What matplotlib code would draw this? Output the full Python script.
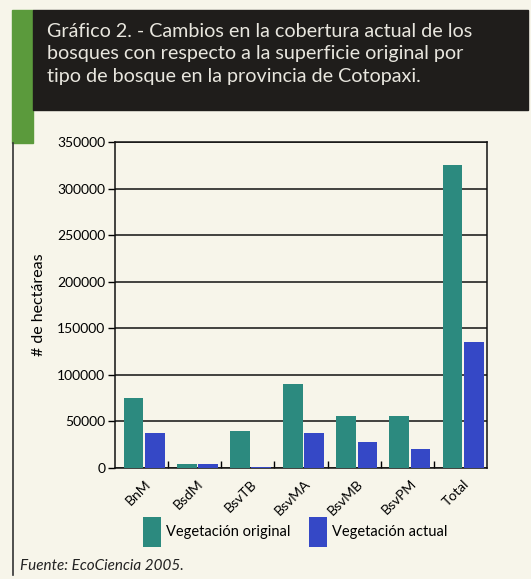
import matplotlib
matplotlib.use('Agg')
import matplotlib.pyplot as plt
from matplotlib.patches import Rectangle
import numpy as np

plt.rcParams['font.family'] = ['Lato', 'DejaVu Sans']

# datos (hectáreas)
categorias = ['BnM', 'BsdM', 'BsvTB', 'BsvMA', 'BsvMB', 'BsvPM', 'Total']
veg_original = [75000, 4500, 40000, 90000, 56000, 56000, 325000]
veg_actual = [38000, 4500, 1000, 37500, 28000, 20000, 135000]
y_ticks = [0, 50000, 100000, 150000, 200000, 250000, 300000, 350000]

titulo = ("Gráfico 2. - Cambios en la cobertura actual de los\n"
          "bosques con respecto a la superficie original por\n"
          "tipo de bosque en la provincia de Cotopaxi.")

W, H = 531, 579
fig = plt.figure(figsize=(W / 100, H / 100), dpi=100)
fig.patch.set_facecolor('#f7f5ea')

# cabecera: franja verde + banda negra
fig.patches.append(Rectangle((12 / W, 1 - 143 / H), 21 / W, 133 / H,
                             transform=fig.transFigure, color='#5b9a3c', zorder=0))
fig.patches.append(Rectangle((33 / W, 1 - 110 / H), 495 / W, 100 / H,
                             transform=fig.transFigure, color='#1f1d1b', zorder=0))
# linea del marco izquierdo
fig.add_artist(plt.Line2D([13 / W, 13 / W], [1 - 575 / H, 1 - 143 / H],
                          transform=fig.transFigure, color='#333333', lw=1.2))

fig.text(47 / W, 1 - 23 / H, titulo, color='#e8e6de', fontsize=14.2,
         va='top', ha='left', linespacing=1.38)

ax = fig.add_axes([115 / W, 1 - 468 / H, 372 / W, 326 / H])
ax.set_facecolor('#f7f5ea')

x = np.arange(len(categorias))
b1 = ax.bar(x - 0.2, veg_original, width=0.37, color='#2c8a7f',
            label='Vegetación original', zorder=3)
b2 = ax.bar(x + 0.2, veg_actual, width=0.37, color='#3548c6',
            label='Vegetación actual', zorder=3)

ax.set_xlim(-0.55, 6.45)
ax.set_ylim(0, 350000)
ax.set_yticks(y_ticks)
ax.set_yticklabels([str(v) for v in y_ticks], fontsize=10)
ax.yaxis.grid(True, color='#111111', lw=1.1, zorder=1)
ax.tick_params(axis='y', direction='out', length=5, width=1, pad=2)

ax.set_xticks(x)
ax.set_xticklabels(categorias, rotation=45, ha='right', rotation_mode='anchor',
                   fontsize=10)
ax.tick_params(axis='x', length=0, pad=7)
ax.set_xticks(np.arange(len(categorias) - 1) + 0.45, minor=True)
ax.tick_params(axis='x', which='minor', direction='in', length=5, width=1)

for s in ax.spines.values():
    s.set_color('#111111')
    s.set_linewidth(1.1)

ax.set_ylabel('# de hectáreas', fontsize=11.5, labelpad=8)

fig.legend(handles=[b1, b2], loc='lower left', bbox_to_anchor=(130 / W, 1 - 560 / H),
           ncol=2, frameon=False, fontsize=10.5, handlelength=1.25, handleheight=2.8,
           handletextpad=0.3, columnspacing=1.3)

fig.text(20 / W, 1 - 566 / H, 'Fuente: EcoCiencia 2005.', style='italic',
         fontsize=11, color='#222222', va='center', ha='left')

fig.savefig('out.png', dpi=100, facecolor=fig.get_facecolor())
